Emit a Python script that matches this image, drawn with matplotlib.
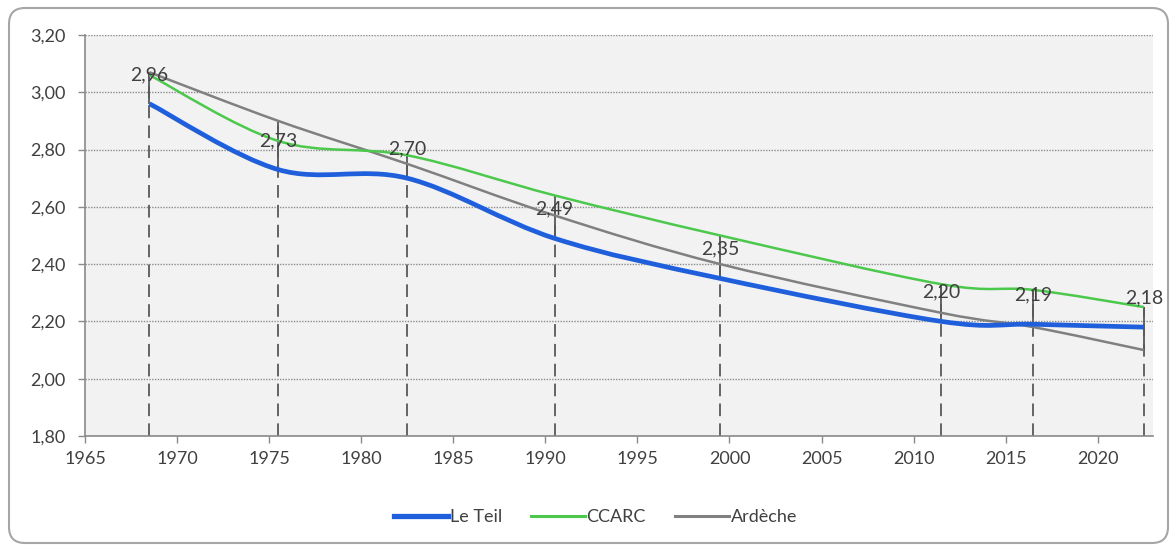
import matplotlib
matplotlib.use('Agg')
import numpy as np
import matplotlib.pyplot as plt
from matplotlib.path import Path
from matplotlib.patches import PathPatch, FancyBboxPatch
from matplotlib.lines import Line2D
from matplotlib.ticker import FuncFormatter, MultipleLocator

plt.rcParams['font.family'] = ['Lato', 'DejaVu Sans']

# Taille moyenne des ménages aux recensements
annees = [1968, 1975, 1982, 1990, 1999, 2011, 2016, 2022]
le_teil = [2.96, 2.73, 2.70, 2.49, 2.35, 2.20, 2.19, 2.18]
ccarc = [3.06, 2.83, 2.78, 2.64, 2.50, 2.33, 2.31, 2.25]
ardeche = [3.07, 2.90, 2.75, 2.57, 2.40, 2.23, 2.18, 2.10]
etiquettes = ['2,96', '2,73', '2,70', '2,49', '2,35', '2,20', '2,19', '2,18']

COUL_TEXTE = '#404040'
COUL_AXE = '#8a8a8a'


def courbe_lissee(x, y):
    """Chemin de Bézier passant par les points (lissage type Excel)."""
    x = np.asarray(x, float)
    y = np.asarray(y, float)
    px = np.concatenate([[x[0]], x, [x[-1]]])
    py = np.concatenate([[y[0]], y, [y[-1]]])
    verts = [(x[0], y[0])]
    codes = [Path.MOVETO]
    for i in range(1, len(x)):
        c1 = (px[i] + (px[i + 1] - px[i - 1]) / 6, py[i] + (py[i + 1] - py[i - 1]) / 6)
        c2 = (px[i + 1] - (px[i + 2] - px[i]) / 6, py[i + 1] - (py[i + 2] - py[i]) / 6)
        verts += [c1, c2, (px[i + 1], py[i + 1])]
        codes += [Path.CURVE4] * 3
    return Path(verts, codes)


fig = plt.figure(figsize=(11.72, 5.47), dpi=100)
ax = fig.add_axes([0.0725, 0.203, 0.9113, 0.733])
ax.set_facecolor('#f2f2f2')

# cadre arrondi autour du graphique
cadre = FancyBboxPatch((9, 4), 1159, 535, boxstyle='round,pad=0,rounding_size=16',
                       transform=None, facecolor='none', edgecolor='#a6a6a6', linewidth=1.5)
fig.patches.append(cadre)

x = np.array(annees) + 0.5  # recensements placés en milieu d'année

# lignes de projection et lignes haut-bas
hauts = np.maximum.reduce([le_teil, ccarc, ardeche])
bas = np.minimum.reduce([le_teil, ccarc, ardeche])
ax.vlines(x, 1.8, hauts, colors='#595959', linestyles=(0, (7, 4)), linewidth=1.3, zorder=2)
ax.vlines(x, bas, hauts, colors='#595959', linewidth=1.3, zorder=2)

series = [
    (le_teil, '#1f5fdc', 3.4, 'Le Teil'),
    (ccarc, '#4cc84c', 1.8, 'CCARC'),
    (ardeche, '#808080', 1.8, 'Ardèche'),
]
for valeurs, couleur, lw, nom in series[::-1]:
    ax.add_patch(PathPatch(courbe_lissee(x, valeurs), facecolor='none',
                           edgecolor=couleur, linewidth=lw, zorder=3))

for xi, yi, txt in zip(x, le_teil, etiquettes):
    ax.annotate(txt, (xi, yi), xytext=(0, 21), textcoords='offset points',
                ha='center', va='center', fontsize=14, color=COUL_TEXTE, zorder=5)

ax.set_xlim(1965, 2023)
ax.set_ylim(1.8, 3.2)
ax.xaxis.set_major_locator(MultipleLocator(5))
ax.yaxis.set_major_locator(MultipleLocator(0.2))
ax.yaxis.set_major_formatter(FuncFormatter(lambda v, p: f'{v:.2f}'.replace('.', ',')))
ax.grid(axis='y', color='#8c8c8c', linestyle=(0, (1, 1)), linewidth=1, zorder=1)
ax.set_axisbelow(True)

for s in ['top', 'right']:
    ax.spines[s].set_visible(False)
for s in ['left', 'bottom']:
    ax.spines[s].set_color(COUL_AXE)
    ax.spines[s].set_linewidth(1.2)
ax.tick_params(axis='both', colors=COUL_AXE, labelcolor=COUL_TEXTE, labelsize=13,
               length=5, width=1)
ax.tick_params(axis='y', pad=9)
ax.tick_params(axis='x', pad=6)

poignees = [Line2D([], [], color=c, linewidth=lw + 0.4) for _, c, lw, _ in series]
fig.legend(poignees, [n for *_, n in series], loc='center', bbox_to_anchor=(0.508, 0.055),
           ncol=3, frameon=False, fontsize=13, handlelength=3.0, handletextpad=0.1,
           columnspacing=1.6, labelcolor=COUL_TEXTE)

fig.savefig('out.png', dpi=100)
